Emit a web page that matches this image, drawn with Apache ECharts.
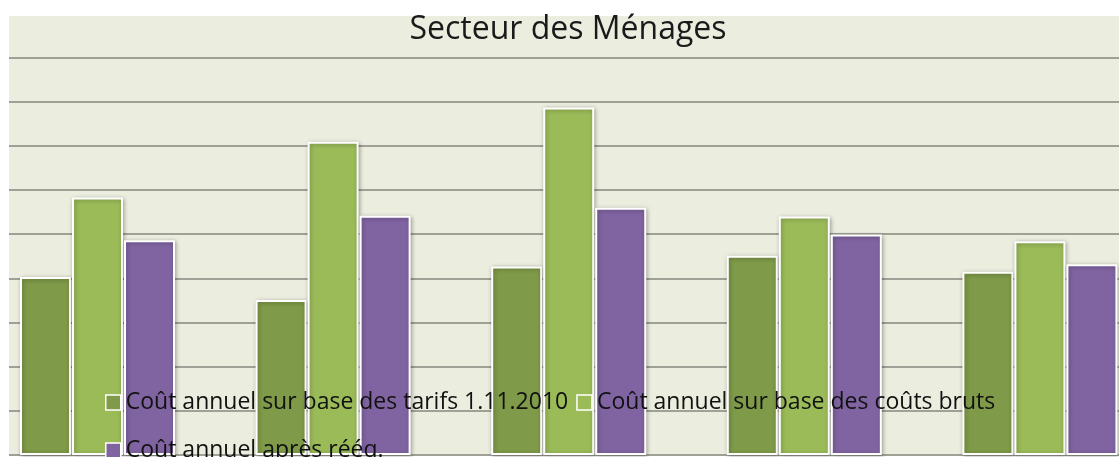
<!DOCTYPE html>
<html>
<head>
<meta charset="utf-8">
<title>Secteur des Ménages</title>
<script src="https://cdn.jsdelivr.net/npm/echarts@6/dist/echarts.min.js"></script>
<style>
  html, body { margin: 0; padding: 0; background: #fff; }
  #chart { width: 1119px; height: 457px; }
</style>
</head>
<body>
<div id="chart"></div>
<script>
// catégories (libellés hors du cadre visible)
var categories = ['1', '2', '3', '4', '5'];
var seriesNames = [
  'Coût annuel sur base des tarifs 1.11.2010',
  'Coût annuel sur base des coûts bruts',
  'Coût annuel après rééq.'
];
// valeurs (une graduation = 1)
var coutTarifs = [4.03, 3.51, 4.27, 4.51, 4.15];
var coutBruts  = [5.83, 7.09, 7.87, 5.40, 4.84];
var coutReeq   = [4.86, 5.42, 5.60, 4.99, 4.32];

var colors = ['#7f9a48', '#9bbb59', '#8064a2'];

function barSerie(name, data, color) {
  return {
    name: name,
    type: 'bar',
    data: data,
    barWidth: 51,
    barGap: '2%',
    itemStyle: {
      color: color,
      borderColor: '#ffffff',
      borderWidth: 2,
      shadowBlur: 4,
      shadowOffsetX: 1,
      shadowOffsetY: 1,
      shadowColor: 'rgba(0,0,0,0.3)'
    },
    emphasis: { disabled: true }
  };
}

var legendText = { fontSize: 23, color: '#111', padding: [0, 0, 3, 0] };

var chart = echarts.init(document.getElementById('chart'));
var option = {
  animation: false,
  color: colors,
  textStyle: { fontFamily: '"Open Sans", sans-serif' },
  grid: {
    left: -20.3, width: 1178, top: 16, bottom: 2,
    outerBoundsMode: 'none',
    containLabel: false,
    show: true, backgroundColor: '#ebeedf', borderWidth: 0
  },
  xAxis: {
    type: 'category',
    data: categories,
    axisLine: { show: false },
    axisTick: { show: false },
    axisLabel: { show: false }
  },
  yAxis: {
    type: 'value',
    min: 0, max: 9.94, interval: 1,
    axisLine: { show: false },
    axisTick: { show: false },
    axisLabel: { show: false },
    splitLine: {
      show: true,
      showMaxLine: false,
      lineStyle: { color: '#9fa197', width: 2 }
    }
  },
  legend: [{
    data: [seriesNames[0], seriesNames[1]],
    left: 100, top: 386,
    icon: 'rect', itemWidth: 15, itemHeight: 15, itemGap: 8,
    itemStyle: { shadowBlur: 0, borderWidth: 1.5 },
    textStyle: legendText,
    selectedMode: false
  }, {
    data: [seriesNames[2]],
    left: 100, top: 434,
    icon: 'rect', itemWidth: 15, itemHeight: 15,
    itemStyle: { shadowBlur: 0, borderWidth: 1.5 },
    textStyle: legendText,
    selectedMode: false
  }],
  graphic: [{
    type: 'rect', z: 100, silent: true,
    shape: { x: 0, y: 0, width: 9, height: 457 },
    style: { fill: '#ffffff' }
  }, {
    type: 'text', z: 100, silent: true,
    style: {
      text: 'Secteur des Ménages',
      x: 568, y: 30,
      textAlign: 'center', textVerticalAlign: 'middle',
      font: '32px "Open Sans", sans-serif',
      fill: '#1a1a1a'
    }
  }],
  series: [
    barSerie(seriesNames[0], coutTarifs, colors[0]),
    barSerie(seriesNames[1], coutBruts, colors[1]),
    barSerie(seriesNames[2], coutReeq, colors[2])
  ]
};
chart.setOption(option);
</script>
</body>
</html>
